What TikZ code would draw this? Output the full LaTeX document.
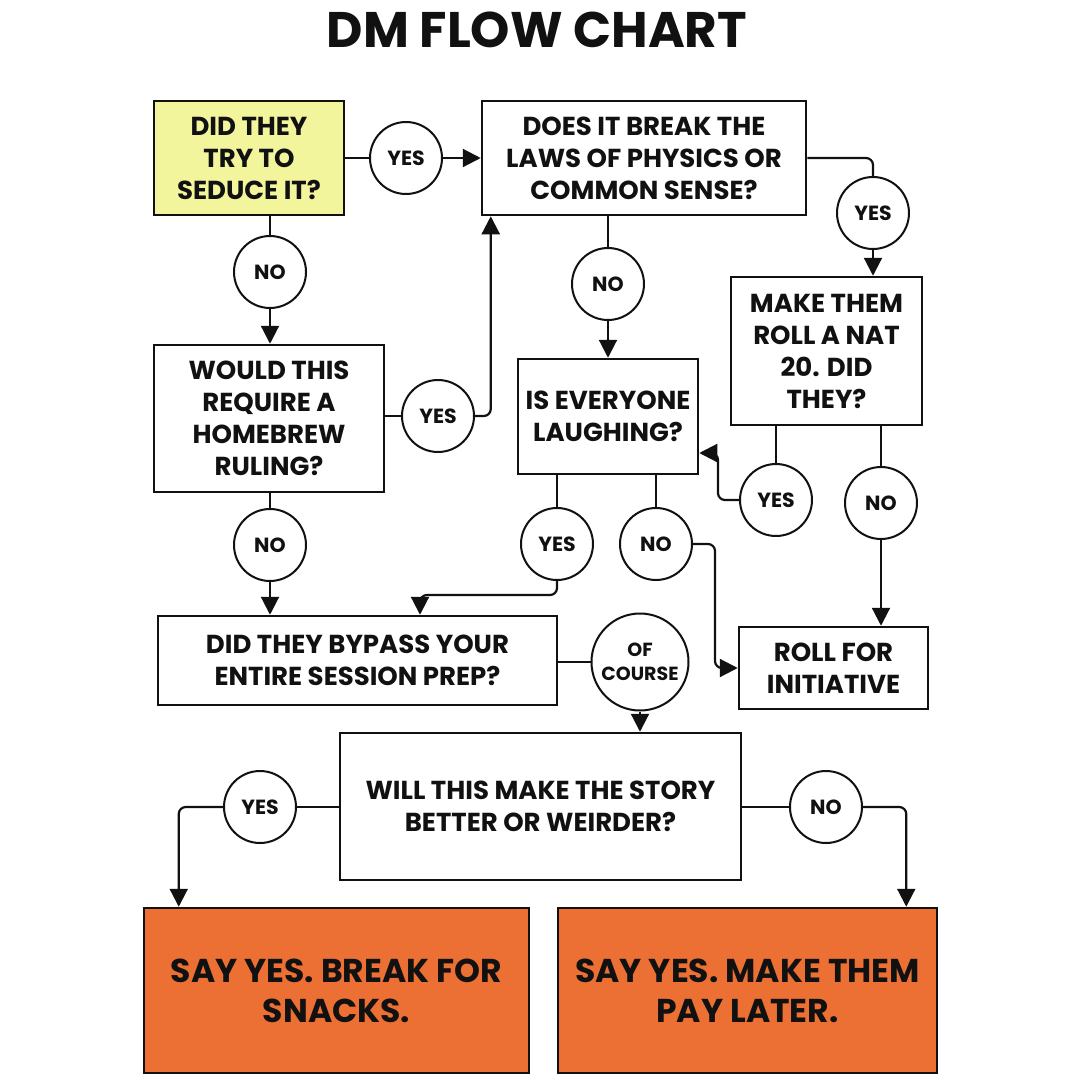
\documentclass[tikz,border=0pt]{standalone}
\usepackage{fontspec}
\setmainfont{Poppins}
\usetikzlibrary{arrows.meta}
\definecolor{ink}{HTML}{111111}
\definecolor{lemon}{HTML}{F2F59C}
\definecolor{tang}{HTML}{EC7034}
\begin{document}
\begin{tikzpicture}[x=1pt,y=-1pt,
  box/.style={draw=ink,line width=2.5pt,inner sep=0pt,align=center,text=ink,
    font=\bfseries\fontsize{26}{32}\selectfont},
  bigbox/.style={box,fill=tang,font=\bfseries\fontsize{33}{40}\selectfont},
  dot/.style={circle,draw=ink,line width=2pt,fill=white,inner sep=0pt,minimum size=72pt,
    text=ink,align=center,font=\bfseries\fontsize{20.5}{24}\selectfont},
  ln/.style={draw=ink,line width=2.2pt},
  arr/.style={ln,-{Triangle[length=18pt,width=18pt]}},
  rc/.style={rounded corners=7pt}]
\useasboundingbox (0,0) rectangle (1080,1080);
\fill[white] (0,0) rectangle (1080,1080);

\node[text=ink,font=\bfseries\fontsize{50}{56}\selectfont] (title) at (537,30) {DM FLOW CHART};

% boxes
\node[box,fill=lemon,minimum width=190,minimum height=114] (seduce) at (249,158) {DID THEY\\TRY TO\\SEDUCE IT?};
\node[box,minimum width=324,minimum height=114] (laws) at (644,158) {DOES IT BREAK THE\\LAWS OF PHYSICS OR\\COMMON SENSE?};
\node[box,minimum width=230,minimum height=147] (hb) at (269,418.5) {WOULD THIS\\REQUIRE A\\HOMEBREW\\RULING?};
\node[box,minimum width=180,minimum height=115] (laugh) at (608,416.5) {IS EVERYONE\\LAUGHING?};
\node[box,minimum width=191,minimum height=148] (nat) at (826.5,351) {MAKE THEM\\ROLL A NAT\\20. DID\\THEY?};
\node[box,minimum width=399,minimum height=89] (bypass) at (357.5,660.5) {DID THEY BYPASS YOUR\\ENTIRE SESSION PREP?};
\node[box,minimum width=189,minimum height=82] (roll) at (833.5,668) {ROLL FOR\\INITIATIVE};
\node[box,minimum width=401,minimum height=147] (story) at (540.5,806.5) {WILL THIS MAKE THE STORY\\BETTER OR WEIRDER?};
\node[bigbox,minimum width=385,minimum height=165] (snacks) at (336.5,990.5) {SAY YES. BREAK FOR\\SNACKS.};
\node[bigbox,minimum width=379,minimum height=165] (pay) at (747.5,990.5) {SAY YES. MAKE THEM\\PAY LATER.};

% decision circles
\node[dot] (y1) at (406,158) {YES};
\node[dot] (n1) at (270,272) {NO};
\node[dot] (n2) at (608,284) {NO};
\node[dot] (yr) at (873,213) {YES};
\node[dot] (yh) at (438,416) {YES};
\node[dot] (n3) at (270,545) {NO};
\node[dot] (yl) at (557,544) {YES};
\node[dot] (nl) at (656,544) {NO};
\node[dot] (yn) at (776,500) {YES};
\node[dot] (nn) at (881,503) {NO};
\node[dot,minimum size=97pt,font=\bfseries\fontsize{19}{24}\selectfont] (oc) at (640,662) {OF\\COURSE};
\node[dot] (ys) at (260,807) {YES};
\node[dot] (ns) at (826,807) {NO};

\coordinate (j6) at (718,453);
\coordinate (j8) at (420,595);
\coordinate (j9) at (715,668);

% connectors
\draw[ln] (seduce.east |- y1) -- (y1.west);
\draw[arr] (y1.east) -- (laws.west |- y1);

\draw[ln] (n1 |- seduce.south) -- (n1.north);
\draw[arr] (n1.south) -- (n1 |- hb.north);

\draw[ln] (hb.east |- yh) -- (yh.west);
\draw[arr,rc] (yh.east) -| ([xshift=10pt]laws.south west);

\draw[ln,rc] (laws.east) -| (yr.north);
\draw[arr] (yr.south) -- (yr |- nat.north);

\draw[ln] (n2 |- laws.south) -- (n2.north);
\draw[arr] (n2.south) -- (n2 |- laugh.north);

\draw[ln] (yn |- nat.south) -- (yn.north);
\draw[arr,rc] (yn.west) -| (j6) -- (j6 -| laugh.east);

\draw[ln] (nn |- nat.south) -- (nn.north);
\draw[arr] (nn.south) -- (nn |- roll.north);

\draw[ln] (yl |- laugh.south) -- (yl.north);
\draw[arr,rc] (yl.south) |- (j8) -- (j8 |- bypass.north);

\draw[ln] (nl |- laugh.south) -- (nl.north);
\draw[arr,rc] (nl.east) -| (j9) -- (j9 -| roll.west);

\draw[ln] (n3 |- hb.south) -- (n3.north);
\draw[arr] (n3.south) -- (n3 |- bypass.north);

\draw[ln] (bypass.east |- oc) -- (oc.west);
\draw[arr] (oc.south) -- (oc |- story.north);

\draw[ln] (story.west |- ys) -- (ys.east);
\draw[arr,rc] (ys.west) -| ([xshift=36pt]snacks.north west);

\draw[ln] (story.east |- ns) -- (ns.west);
\draw[arr,rc] (ns.east) -| ([xshift=-32pt]pay.north east);
\end{tikzpicture}
\end{document}
